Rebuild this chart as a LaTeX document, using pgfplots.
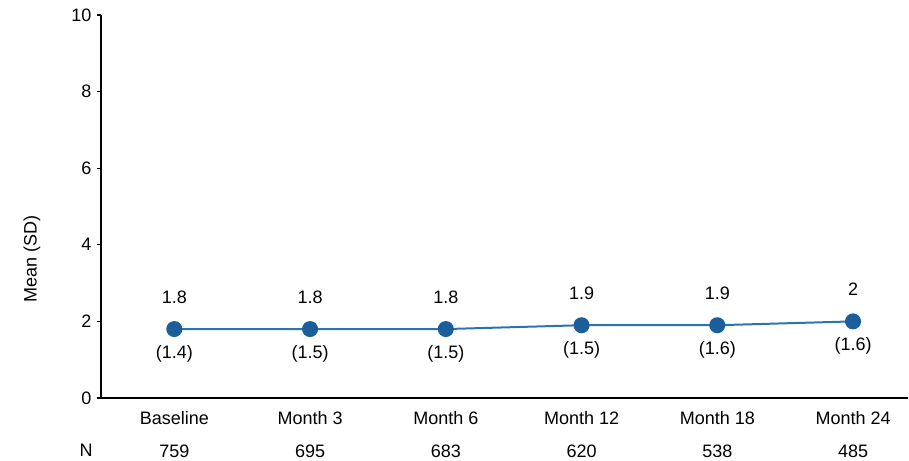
\documentclass[border=0pt]{standalone}
\usepackage{fontspec}
\setmainfont{Liberation Sans}
\usepackage{pgfplots}
\pgfplotsset{compat=1.18}
\definecolor{lineblue}{HTML}{2A74B0}
\definecolor{markblue}{HTML}{1B5E9C}
\begin{document}
\begin{tikzpicture}[font=\fontsize{18}{33.4}\selectfont]
\begin{axis}[
  at={(0,0)}, anchor=south west,
  scale only axis, width=807pt, height=383pt,
  xmin=-0.54, xmax=5.405, ymin=0, ymax=10,
  axis x line=bottom, axis y line=left,
  axis line style={line width=1.3pt, -},
  ytick={0,2,4,6,8,10},
  xtick={0,1,2,3,4,5},
  xticklabels={Baseline\\759, Month 3\\695, Month 6\\683, Month 12\\620, Month 18\\538, Month 24\\485},
  xticklabel style={align=center, anchor=north, yshift=-6pt},
  yticklabel style={xshift=-2pt},
  x tick style={draw=none},
  y tick style={line width=1.3pt, black},
  major tick length=4pt, tick align=outside,
  /pgf/number format/assume math mode=true,
  ylabel={Mean (SD)},
  ylabel style={at={(axis description cs:-0.0855,0.363)}, anchor=center},
  clip=false,
]
\addplot[color=lineblue, line width=2pt, mark=*, mark size=7pt,
  mark options={fill=markblue, draw=markblue},
  nodes near coords, point meta=explicit symbolic,
  every node near coord/.append style={anchor=base, yshift=26pt, color=black, font=\fontsize{18}{20}\selectfont}]
  coordinates {(0,1.8)[1.8] (1,1.8)[1.8] (2,1.8)[1.8] (3,1.9)[1.9] (4,1.9)[1.9] (5,2)[2]};
\addplot[draw=none, mark=none,
  nodes near coords, point meta=explicit symbolic,
  every node near coord/.append style={anchor=base, yshift=-29pt, color=black, font=\fontsize{18}{20}\selectfont}]
  coordinates {(0,1.8)[(1.4)] (1,1.8)[(1.5)] (2,1.8)[(1.5)] (3,1.9)[(1.5)] (4,1.9)[(1.6)] (5,2)[(1.6)]};
\end{axis}
\node[anchor=base] at (-15pt,-58.7pt) {N};
\pgfresetboundingbox
\path (-101pt,-62pt) rectangle (808pt,398pt);
\end{tikzpicture}
\end{document}
